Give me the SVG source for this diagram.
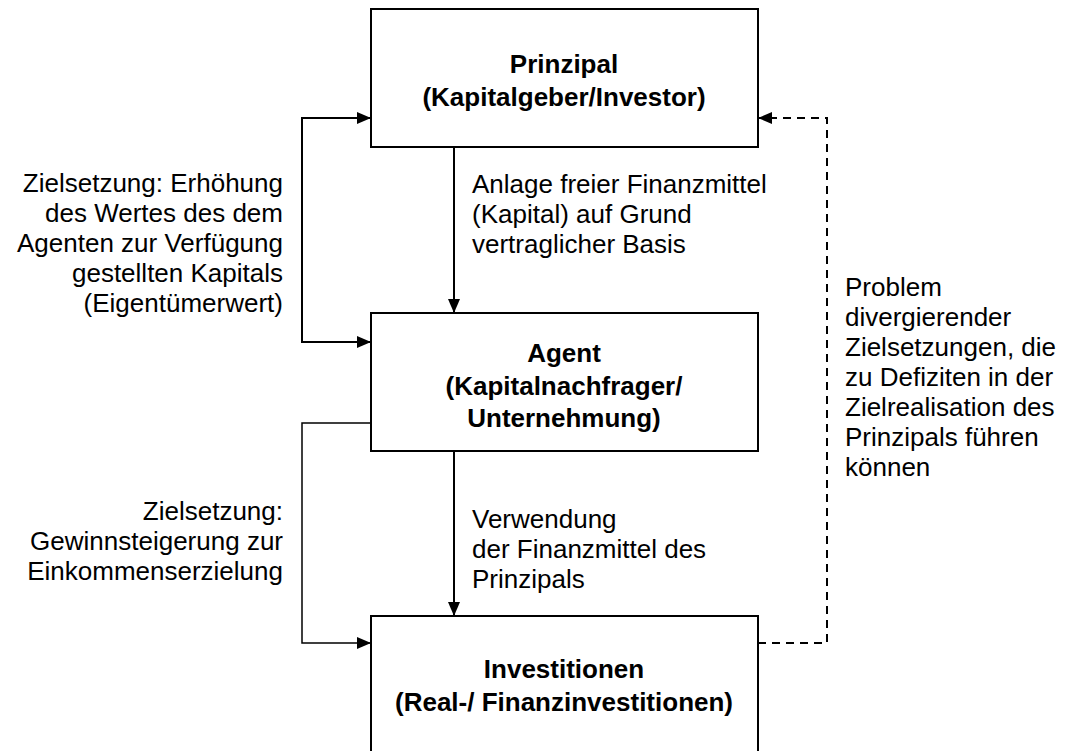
<svg xmlns="http://www.w3.org/2000/svg" width="1069" height="751" viewBox="0 0 1069 751">
<style>
.box{fill:#fff;stroke:#000;stroke-width:2}
.t{font-family:"Liberation Sans",Arial,sans-serif;font-size:26px;fill:#000}
.b{font-weight:bold;text-anchor:middle}
.r{text-anchor:end}
.c{fill:none;stroke:#000;stroke-width:2}
.thin{stroke-width:1.5}
.d{stroke-dasharray:8,6}
</style>
<defs>
<marker id="ah" viewBox="0 0 14 12" refX="14" refY="6" markerWidth="14" markerHeight="12" markerUnits="userSpaceOnUse" orient="auto-start-reverse">
<path d="M0,0 L14,6 L0,12 Z" fill="#000"/>
</marker>
</defs>
<rect width="1069" height="751" fill="#fff"/>
<g id="connectors">
<path class="c" d="M454,147 V313" marker-end="url(#ah)"/>
<path class="c" d="M454,451 V616" marker-end="url(#ah)"/>
<path class="c" d="M371,118 H302 V342 H371" marker-start="url(#ah)" marker-end="url(#ah)"/>
<path class="c thin" d="M371,423 H302 V643 H371" marker-end="url(#ah)"/>
<path class="c d" d="M758,643 H827 V118 H758" marker-end="url(#ah)"/>
</g>
<g id="principal">
<rect class="box" x="371" y="9" width="387" height="138"/>
<text class="t b" x="564" y="73">Prinzipal</text>
<text class="t b" x="564" y="106">(Kapitalgeber/Investor)</text>
</g>
<g id="agent">
<rect class="box" x="371" y="313" width="387" height="138"/>
<text class="t b" x="564" y="362">Agent</text>
<text class="t b" x="564" y="395">(Kapitalnachfrager/</text>
<text class="t b" x="564" y="427">Unternehmung)</text>
</g>
<g id="investments">
<rect class="box" x="371" y="616" width="387" height="150"/>
<text class="t b" x="564" y="678">Investitionen</text>
<text class="t b" x="564" y="711">(Real-/ Finanzinvestitionen)</text>
</g>
<g id="label-goal-principal">
<text class="t r" x="283" y="192">Zielsetzung: Erhöhung</text>
<text class="t r" x="283" y="222">des Wertes des dem</text>
<text class="t r" x="283" y="252">Agenten zur Verfügung</text>
<text class="t r" x="283" y="282">gestellten Kapitals</text>
<text class="t r" x="283" y="312">(Eigentümerwert)</text>
</g>
<g id="label-goal-agent">
<text class="t r" x="283" y="520">Zielsetzung:</text>
<text class="t r" x="283" y="550">Gewinnsteigerung zur</text>
<text class="t r" x="283" y="580">Einkommenserzielung</text>
</g>
<g id="label-investment">
<text class="t" x="472" y="193">Anlage freier Finanzmittel</text>
<text class="t" x="472" y="223">(Kapital) auf Grund</text>
<text class="t" x="472" y="253">vertraglicher Basis</text>
</g>
<g id="label-use">
<text class="t" x="472" y="528">Verwendung</text>
<text class="t" x="472" y="558">der Finanzmittel des</text>
<text class="t" x="472" y="588">Prinzipals</text>
</g>
<g id="label-problem">
<text class="t" x="845" y="296">Problem</text>
<text class="t" x="845" y="326">divergierender</text>
<text class="t" x="845" y="356">Zielsetzungen, die</text>
<text class="t" x="845" y="386">zu Defiziten in der</text>
<text class="t" x="845" y="416">Zielrealisation des</text>
<text class="t" x="845" y="446">Prinzipals führen</text>
<text class="t" x="845" y="476">können</text>
</g>
</svg>
